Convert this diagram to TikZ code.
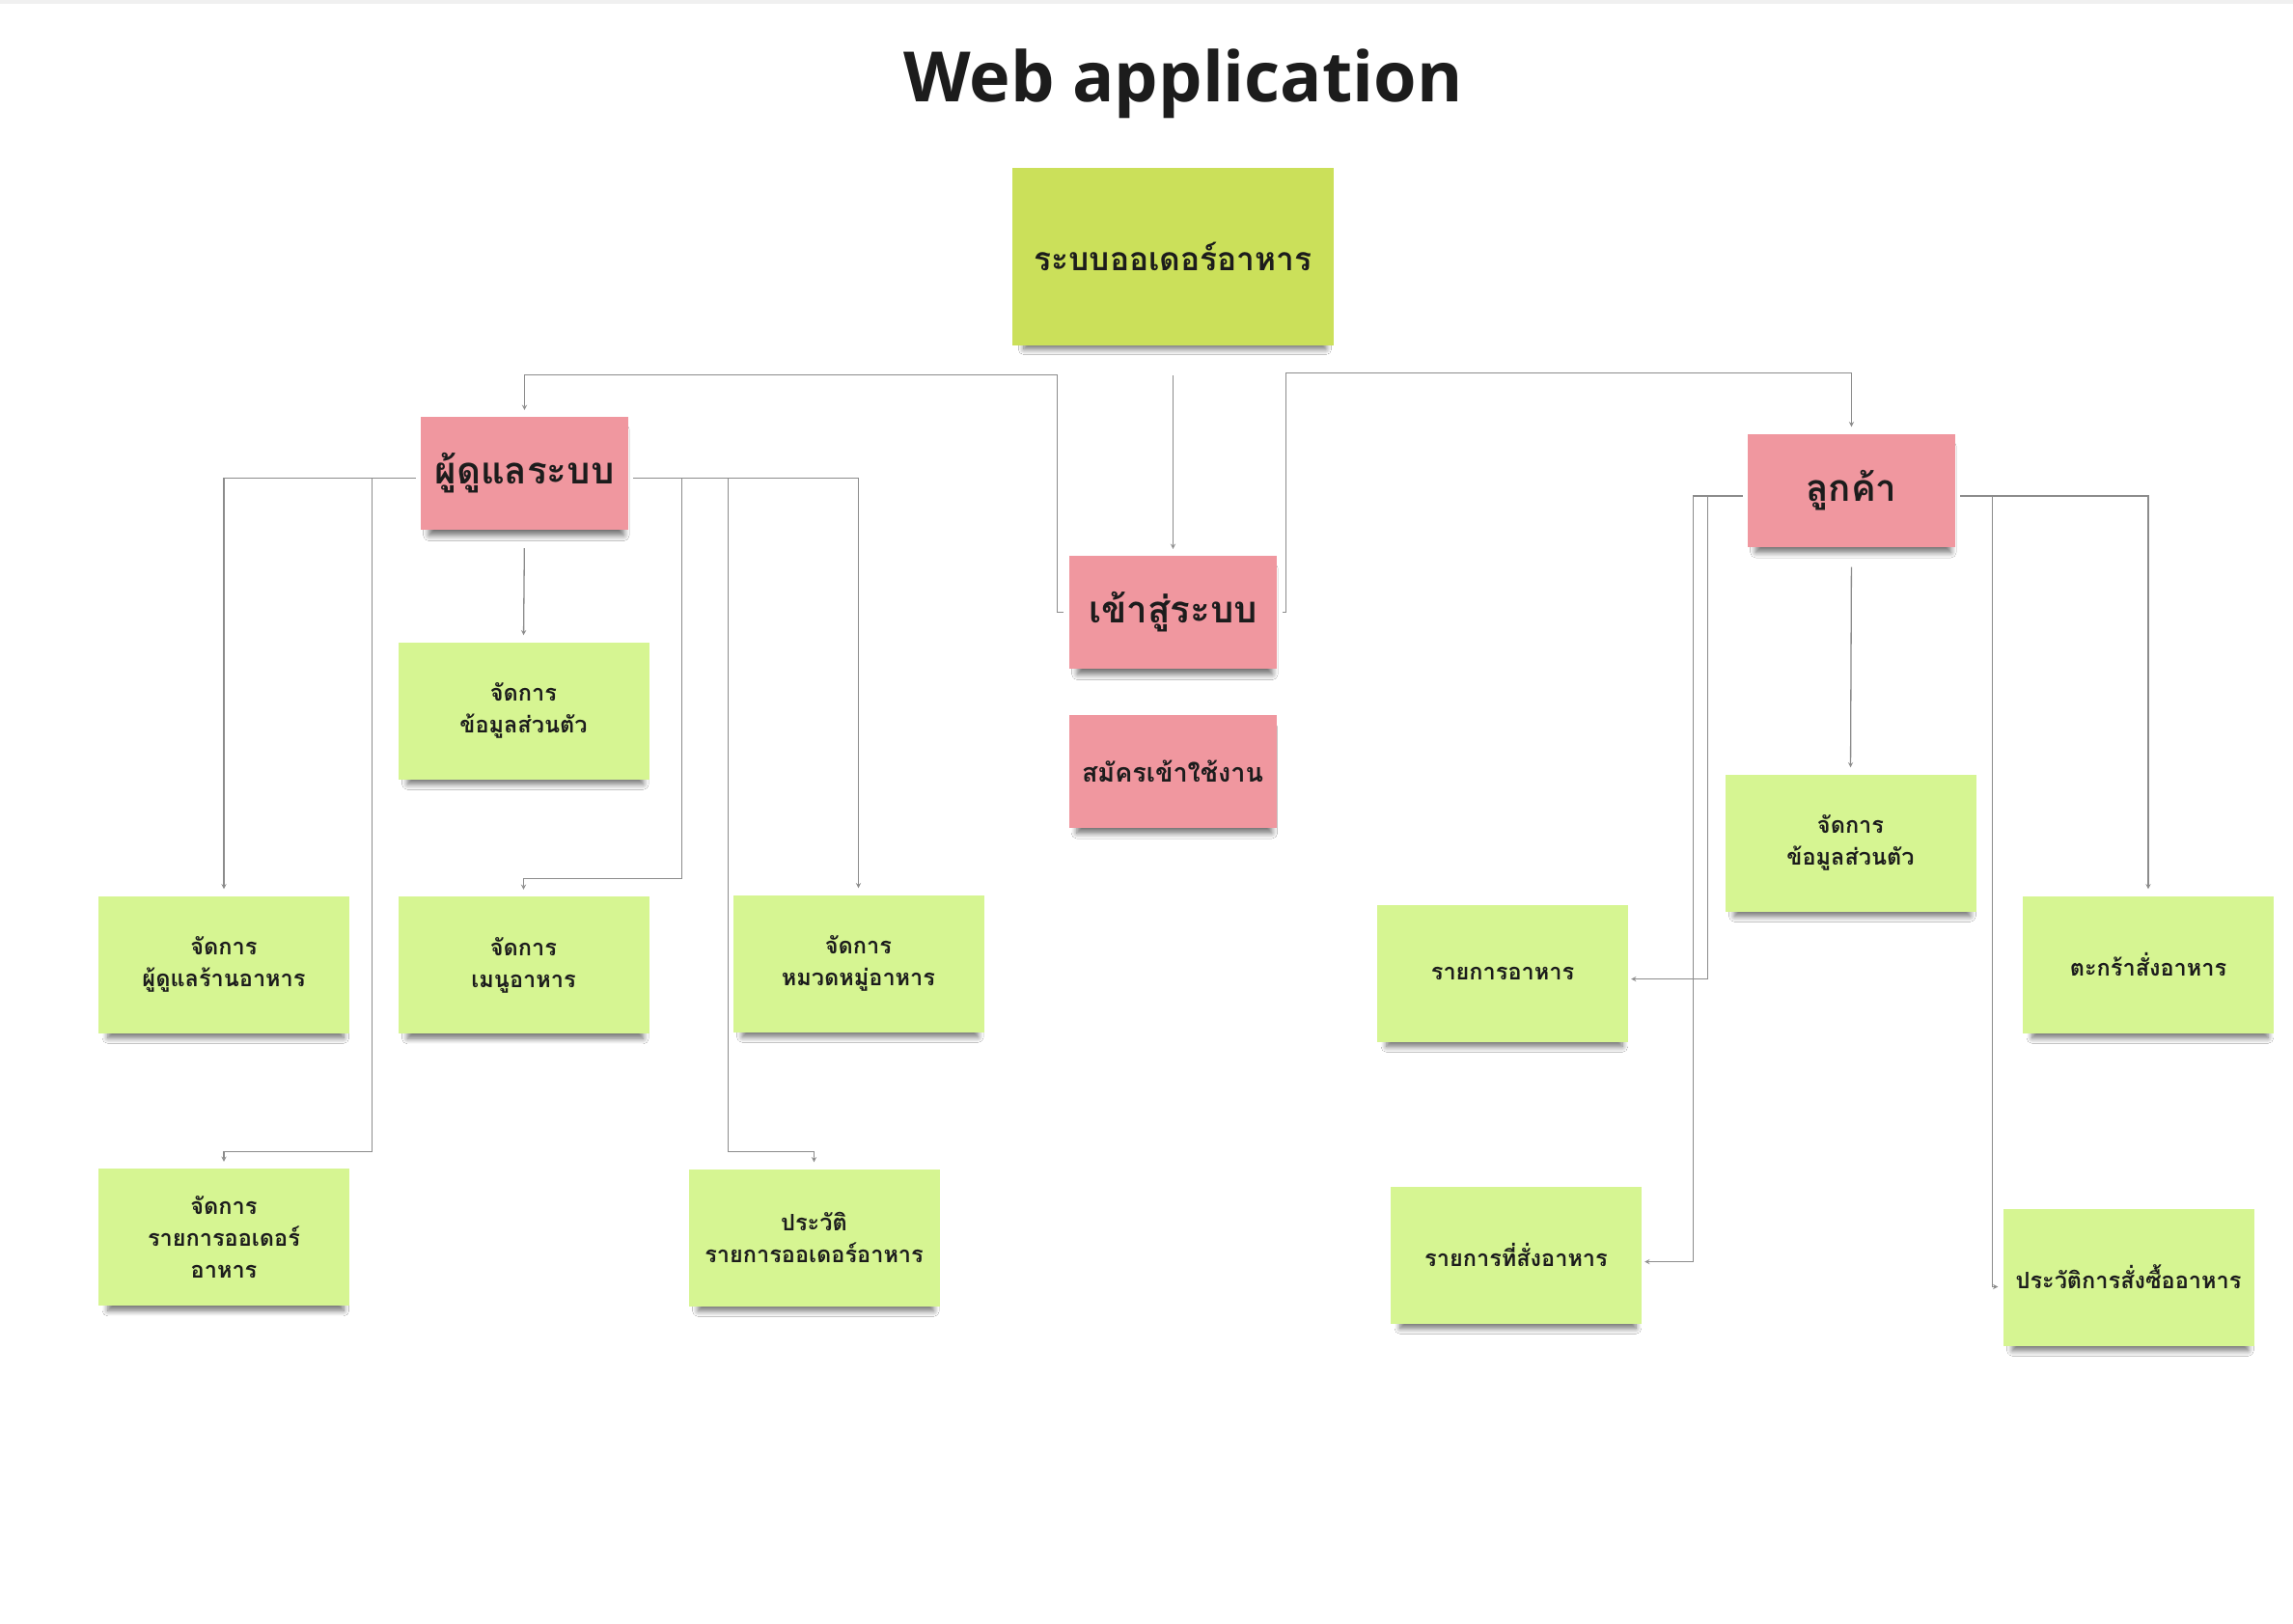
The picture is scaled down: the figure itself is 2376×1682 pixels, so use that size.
\documentclass[tikz,border=0pt]{standalone}
\usepackage{fontspec}
\usepackage{xcolor}
\usepackage{tikz}
\usetikzlibrary{calc,shadows,shadows.blur,arrows}
\setmainfont{Open Sans}
\newfontfamily\thaifont[Script=Thai]{Loma}

\definecolor{rootgreen}{HTML}{CBE05A}
\definecolor{notegreen}{HTML}{D6F592}
\definecolor{notepink}{HTML}{F0979F}
\definecolor{linegray}{HTML}{8C8C8C}
\definecolor{inkblack}{HTML}{1C1C1C}

\tikzset{
    note/.style={draw=none, inner sep=0pt, align=center, text=inkblack,
        minimum width=260pt, minimum height=142pt,
        font=\thaifont\bfseries\fontsize{23.5}{33}\selectfont,
        blur shadow={shadow xshift=2pt, shadow yshift=-10pt, shadow scale=0.94,
            shadow blur radius=6pt, shadow blur steps=8, shadow opacity=55}},
    greennote/.style={note, fill=notegreen},
    pinknote/.style={note, fill=notepink, minimum width=215pt, minimum height=117pt,
        font=\thaifont\bfseries\fontsize{38.5}{42}\selectfont},
    rootnote/.style={note, fill=rootgreen, minimum width=333pt, minimum height=184pt,
        font=\thaifont\bfseries\fontsize{33.5}{38}\selectfont},
    conn/.style={draw=linegray, line width=1.3pt, -stealth, shorten >=7pt, shorten <=5pt},
}

\begin{document}
\begin{tikzpicture}[x=1pt, y=-1pt]
            \fill[white] (0,0) rectangle (2376,1682);
            \useasboundingbox (0,0) rectangle (2376,1682);
            \fill[black!6] (0,0) rectangle (2376,4);
            \node[font=\fontsize{72}{84}\selectfont\bfseries, text=inkblack] at (1226,87) (title) {Web application};

            % top level
            \node[rootnote] at (1215.5,266) (root) {ระบบออเดอร์อาหาร};
            \node[pinknote] at (543.5,490.5) (admin) {ผู้ดูแลระบบ};
            \node[pinknote] at (1918.5,508) (cust) {ลูกค้า};
            \node[pinknote] at (1215.5,634.5) (login) {เข้าสู่ระบบ};
            \node[pinknote, font=\thaifont\bfseries\fontsize{27}{30}\selectfont] at (1215,799) (signup) {สมัครเข้าใช้งาน};

            % admin side
            \node[greennote] at (542.5,736.5) (aprof) {จัดการ\\ข้อมูลส่วนตัว};
            \node[greennote] at (232,999.5) (amgr) {จัดการ\\ผู้ดูแลร้านอาหาร};
            \node[greennote] at (542.5,1000) (amenu) {จัดการ\\เมนูอาหาร};
            \node[greennote] at (889.5,998.5) (acat) {จัดการ\\หมวดหมู่อาหาร};
            \node[greennote] at (232,1282) (aorder) {จัดการ\\รายการออเดอร์\\อาหาร};
            \node[greennote] at (843.5,1282.5) (ahist) {ประวัติ\\รายการออเดอร์อาหาร};

            % customer side
            \node[greennote] at (1917.5,873.5) (cprof) {จัดการ\\ข้อมูลส่วนตัว};
            \node[greennote] at (1557,1008.5) (cmenu) {รายการอาหาร};
            \node[greennote] at (2226,999.5) (ccart) {ตะกร้าสั่งอาหาร};
            \node[greennote] at (1571,1300.5) (corder) {รายการที่สั่งอาหาร};
            \node[greennote] at (2205.5,1323.5) (chist) {ประวัติการสั่งซื้ออาหาร};

            % connectors
            \draw[conn, shorten <=31pt] (root.south) -- (login.north);
            \draw[conn, shorten <=6pt] (login.west) -- ++(-12,0) |- ($(admin.north)+(0,-43)$) -- (admin.north);
            \draw[conn, shorten <=6pt] (login.east) -- ++(9,0) |- ($(cust.north)+(0,-63)$) -- (cust.north);

            \draw[conn, shorten <=19pt] (admin.south) -- (aprof.north);
            \draw[conn] ([yshift=-5pt]admin.west) -| (amgr.north);
            \draw[conn] ([yshift=-5pt]admin.west) -| ++(-50,698) -| (aorder.north);
            \draw[conn] ([yshift=-5pt]admin.east) -| ++(55,415) -| (amenu.north);
            \draw[conn] ([yshift=-5pt]admin.east) -| ++(103,698) -| (ahist.north);
            \draw[conn] ([yshift=-5pt]admin.east) -| (acat.north);

            \draw[conn, shorten <=21pt] (cust.south) -- (cprof.north);
            \draw[conn, shorten >=3pt] ([yshift=-6pt]cust.west) -- ++(-56,0) |- ([yshift=-7pt]corder.east);
            \draw[conn, shorten >=3pt] ([yshift=-6pt]cust.west) -- ++(-41,0) |- ([yshift=-6pt]cmenu.east);
            \draw[conn, shorten >=5pt] ([yshift=-6pt]cust.east) -- ++(38,0) |- ([yshift=-10pt]chist.west);
            \draw[conn] ([yshift=-6pt]cust.east) -| (ccart.north);
        \end{tikzpicture}
\end{document}
